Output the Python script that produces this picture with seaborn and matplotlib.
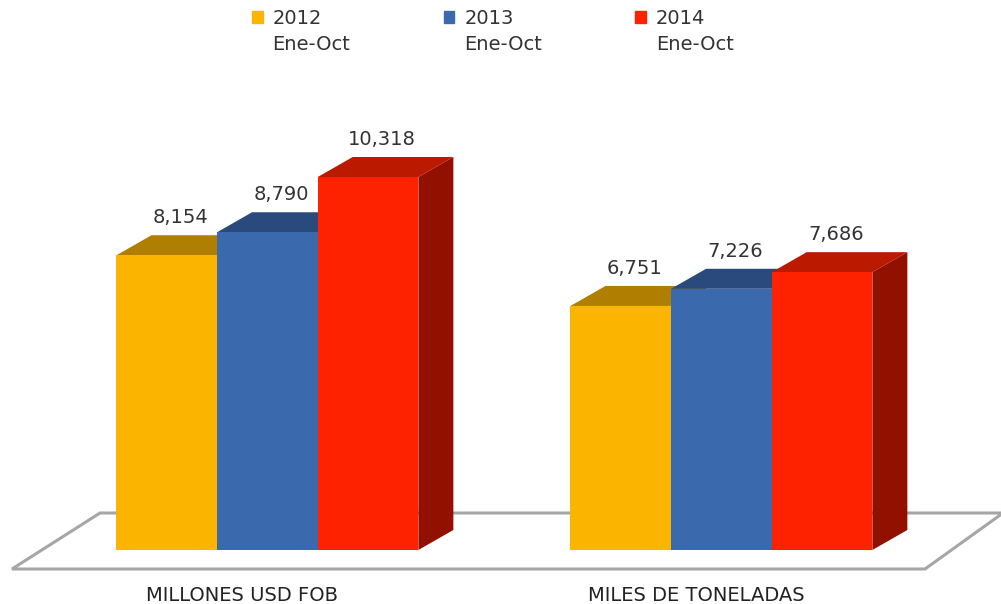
import seaborn as sns
import matplotlib.pyplot as plt
import numpy as np
import pandas as pd
from matplotlib.patches import Polygon
from matplotlib.transforms import ScaledTranslation

# data
categories = ['MILLONES USD FOB', 'MILES DE TONELADAS']
years = ['2012', '2013', '2014']
v2012 = [8154, 6751]
v2013 = [8790, 7226]
v2014 = [10318, 7686]

front_colors = ['#FBB400', '#3A69AE', '#FF2200']
top_colors = ['#B07E00', '#2A4A7E', '#BC1A00']
side_colors = ['#8E6600', '#223C66', '#921000']

df = pd.DataFrame({
    'cat': categories * 3,
    'year': [y for y in years for _ in categories],
    'value': v2012 + v2013 + v2014,
})

W, H = 1001, 604
fig = plt.figure(figsize=(W / 100, H / 100), dpi=100)
sns.set_style('white')
ax = fig.add_axes([0, (H - 550) / H, 1, 433.8 / H])

sns.barplot(data=df, x='cat', y='value', hue='year', order=categories, hue_order=years,
            palette=front_colors, width=0.665, saturation=1, linewidth=0, legend=False, ax=ax)
ax.set_ylim(0, 12000)
ax.set_xlim(-0.589, -0.589 + W / 454)
sns.despine(ax=ax, left=True, bottom=True)
ax.set_yticks([])
ax.set_xlabel('')
ax.set_ylabel('')
ax.tick_params(axis='x', length=0, pad=26, labelsize=14, labelcolor='#222222')
shift = ScaledTranslation(-25 / 100, 0, fig.dpi_scale_trans)
for lab in ax.get_xticklabels():
    lab.set_transform(lab.get_transform() + shift)

fig.canvas.draw()
to_data = ax.transData.inverted()
to_fig = fig.transFigure.inverted()
dx, dy = 35, 20  # depth offset in pixels

# floor (parallelogram under the bars)
base_y = ax.transData.transform((0, 0))[1]
floor_px = [(12, base_y - 19), (925, base_y - 19), (1003, base_y + 37), (100, base_y + 37)]
floor = Polygon(to_fig.transform(floor_px), closed=True, facecolor='white',
                edgecolor='#a6a6a6', lw=2.2, transform=fig.transFigure, zorder=0)
fig.patches.append(floor)
ax.set_zorder(1)
ax.patch.set_alpha(0)

# 3d faces for every bar
for i, cont in enumerate(ax.containers):
    for bar in cont:
        bar.set_zorder(10 + i)
        x0, y0 = bar.get_x(), bar.get_y()
        x1, y1 = x0 + bar.get_width(), y0 + bar.get_height()
        (px0, py0), (px1, py1) = ax.transData.transform([(x0, y0), (x1, y1)])
        top = [(px0, py1), (px1, py1), (px1 + dx, py1 + dy), (px0 + dx, py1 + dy)]
        side = [(px1, py0), (px1 + dx, py0 + dy), (px1 + dx, py1 + dy), (px1, py1)]
        ax.add_patch(Polygon(to_data.transform(top), closed=True, facecolor=top_colors[i],
                             lw=0, zorder=9.5 + i))
        ax.add_patch(Polygon(to_data.transform(side), closed=True, facecolor=side_colors[i],
                             lw=0, zorder=9.5 + i))
        val = bar.get_height()
        ax.annotate(f'{val:,.0f}', ((x0 + x1) / 2, val), xytext=(14 * 0.72, (dy + 8) * 0.72),
                    textcoords='offset points', ha='center', va='bottom', fontsize=14,
                    color='#333333', zorder=30)

# legend at the top
handles = [plt.Rectangle((0, 0), 1, 1, color=c) for c in front_colors]
leg = fig.legend(handles, years, ncol=3, loc='upper left', bbox_to_anchor=(252 / W, 1 - 9 / H),
                 frameon=False, fontsize=14, handlelength=0.55, handleheight=0.55,
                 handletextpad=0.5, columnspacing=6.27, borderaxespad=0, borderpad=0)
for t in leg.get_texts():
    t.set_color('#333333')
fig.canvas.draw()
for t in leg.get_texts():
    bb = t.get_window_extent()
    fig.text(bb.x0 / W, (bb.y0 - 7) / H, 'Ene-Oct', ha='left', va='top', fontsize=14,
             color='#333333')

fig.savefig('out.png', dpi=100)
